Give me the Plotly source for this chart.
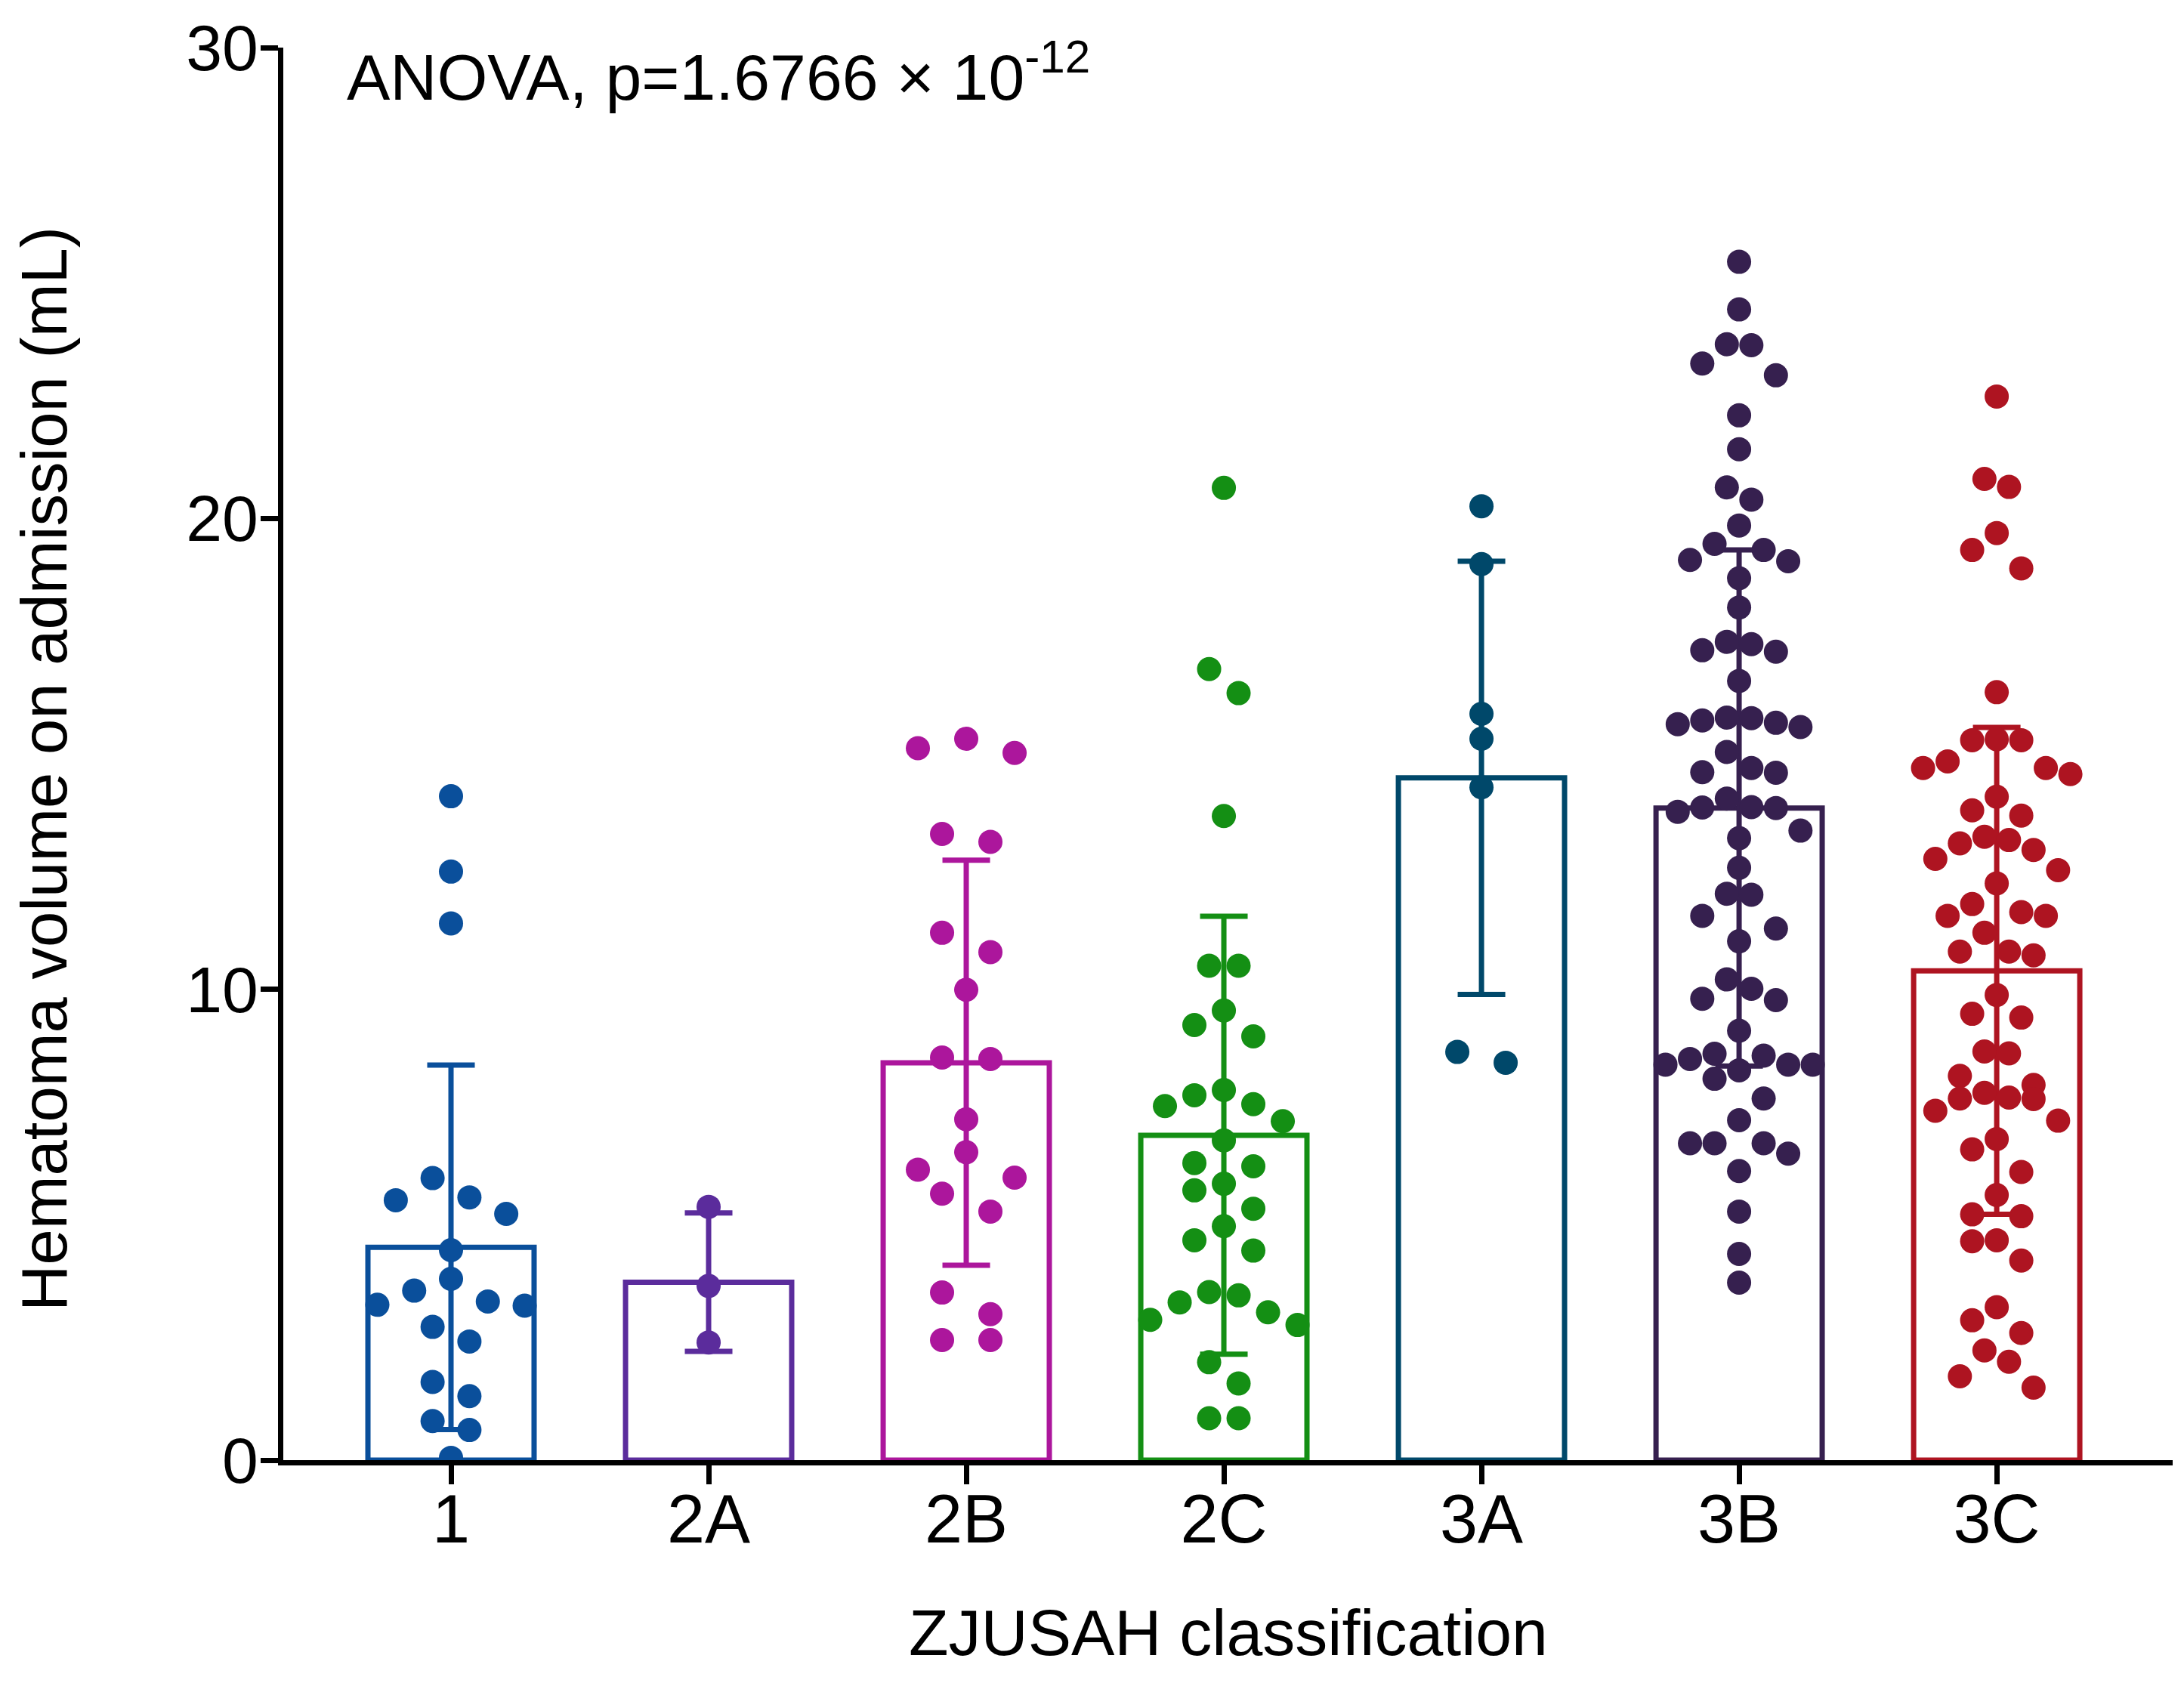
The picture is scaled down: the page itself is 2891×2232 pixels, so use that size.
import plotly.graph_objects as go

# ---------------- data ----------------
categories = ["1", "2A", "2B", "2C", "3A", "3B", "3C"]

vals_1 = [14.1, 12.5, 11.4, 5.99, 5.58, 5.52, 5.23, 4.46, 3.85, 3.60, 3.30, 3.37,
          3.28, 2.83, 2.52, 1.66, 1.36, 0.83, 0.64, 0.05]
vals_2A = [5.38, 3.70, 2.50]
vals_2B = [15.02, 15.32, 15.12, 13.13, 13.30, 11.20, 10.79, 9.99, 8.52, 8.55, 7.24,
           6.54, 6.17, 6.00, 5.66, 5.28, 3.56, 3.10, 2.55, 2.55]
vals_2C = [20.65, 16.80, 16.29, 13.68, 10.50, 10.50, 9.55, 9.24, 9.00, 7.86, 7.52,
           7.75, 7.56, 7.20, 6.79, 6.31, 6.24, 5.87, 5.73, 5.34, 4.97, 4.45, 4.67,
           3.50, 3.57, 3.35, 2.98, 2.87, 3.14, 2.08, 1.63, 0.89, 0.89]
vals_3A = [20.26, 19.03, 15.85, 15.32, 14.29, 8.67, 8.44]
vals_3B = [25.45, 24.44, 23.68, 23.70, 23.29, 23.04, 22.19, 21.47, 20.66, 20.40,
           19.85, 19.46, 19.33, 19.09, 19.12, 18.73, 18.11, 17.20, 17.17, 17.38,
           17.33, 16.55, 15.76, 15.57, 15.71, 15.66, 15.63, 15.77, 15.04, 14.61,
           14.70, 14.60, 14.05, 13.77, 13.87, 13.85, 13.86, 13.21, 13.37, 12.58,
           12.03, 12.01, 11.56, 11.29, 11.02, 10.21, 10.01, 9.77, 9.80, 9.12, 8.59,
           8.63, 8.52, 8.40, 8.40, 8.28, 8.40, 8.10, 7.68, 7.22, 6.51, 6.73, 6.73,
           6.73, 6.14, 5.28, 4.38, 3.77]
vals_3C = [22.59, 20.84, 20.67, 19.69, 19.33, 18.94, 16.31, 15.29, 15.29, 15.31,
           14.84, 14.70, 14.70, 14.57, 14.09, 13.69, 13.80, 13.10, 13.17, 13.24,
           12.96, 12.77, 12.53, 12.25, 11.81, 11.64, 11.56, 11.56, 11.20, 10.72,
           10.80, 10.80, 9.88, 9.48, 9.40, 8.64, 8.68, 8.16, 7.97, 7.67, 7.68, 7.80,
           7.70, 7.21, 7.42, 6.60, 6.82, 6.12, 5.63, 5.18, 5.22, 4.65, 4.67, 4.24,
           3.25, 2.97, 2.70, 2.33, 2.09, 1.78, 1.54]

bar_means = [4.52, 3.78, 8.44, 6.90, 14.49, 13.85, 10.39]
bar_sds = [3.87, 1.47, 4.30, 4.65, 4.60, 5.48, 5.17]

y_ticks = [0, 10, 20, 30]

# ---------------- style ----------------
colors = ["#0A4F9B", "#5B2C9C", "#AC169C", "#148F14", "#00486A", "#36204F", "#AE1421"]
FONT = "Liberation Sans, Arial, Helvetica, sans-serif"

OFF = 8                      # default page margin around the plot div
W, H = 2891 - 2 * OFF, 2232 - 2 * OFF
PLOT_L, PLOT_R, PLOT_T, PLOT_B = 375, 2876, 57, 1933   # page coordinates
ML = PLOT_L - OFF
MT = PLOT_T - OFF
MR = W - (PLOT_R - OFF)
MB = H - (PLOT_B - OFF)
plot_w = PLOT_R - PLOT_L
plot_h = PLOT_B - PLOT_T
x_range = [-0.651, 6.683]
y_range = [0, 30]
px_per_cat = plot_w / (x_range[1] - x_range[0])
px_per_unit = plot_h / (y_range[1] - y_range[0])

DOT = 32          # marker diameter in px
MAX_SPAN = 195    # widest row of dots in px
ROW_H = 50        # max row height in px


def swarm_offsets(values):
    """GraphPad-like scatter: group close values into rows, spread rows symmetrically."""
    vals = sorted(values, reverse=True)
    rows = []
    for v in vals:
        if rows:
            r = rows[-1]
            gap = (r[-1] - v) * px_per_unit
            span = (r[0] - v) * px_per_unit
            if gap < DOT and span <= ROW_H:
                r.append(v)
                continue
        rows.append([v])
    nmax = max(len(r) for r in rows)
    sp = 2 * DOT if nmax < 2 else min(2 * DOT, MAX_SPAN / (nmax - 1))
    offs, ys = [], []
    for r in rows:
        n = len(r)
        slots = [(i - (n - 1) / 2) * sp for i in range(n)]
        slots = sorted(slots, key=lambda s: (abs(s), s))
        for v, s in zip(r, slots):
            offs.append(s / px_per_cat)
            ys.append(v)
    return offs, ys


def px(page_x):
    return (page_x - PLOT_L) / plot_w


def py(page_y):
    return (PLOT_B - page_y) / plot_h


groups = [vals_1, vals_2A, vals_2B, vals_2C, vals_3A, vals_3B, vals_3C]

fig = go.Figure()

for i, (m, sd, c) in enumerate(zip(bar_means, bar_sds, colors)):
    fig.add_trace(go.Bar(
        x=[i], y=[m], width=0.645,
        marker=dict(color="rgba(255,255,255,0)", line=dict(color=c, width=7)),
        error_y=dict(type="data", array=[sd], visible=True, color=c,
                     thickness=7, width=31.5),
        showlegend=False, hoverinfo="skip",
    ))

for i, (vals, c) in enumerate(zip(groups, colors)):
    offs, ys = swarm_offsets(vals)
    fig.add_trace(go.Scatter(
        x=[i + o for o in offs], y=ys, mode="markers",
        marker=dict(size=DOT, color=c, line=dict(width=0)),
        showlegend=False,
    ))

fig.update_layout(
    width=W, height=H,
    margin=dict(l=ML, r=MR, t=MT, b=MB, pad=0),
    paper_bgcolor="white", plot_bgcolor="white",
    barmode="overlay",
    font=dict(family=FONT, color="black", size=84),
    showlegend=False,
)

fig.update_xaxes(
    range=x_range, tickmode="array", tickvals=list(range(len(categories))),
    ticktext=categories, ticks="outside", ticklen=25, tickwidth=7, tickcolor="black",
    showline=True, linewidth=7, linecolor="black", showgrid=False, zeroline=False,
    tickfont=dict(size=90, family=FONT, color="black"), ticklabelstandoff=-31,
)
fig.update_yaxes(
    range=y_range, tickmode="array", tickvals=y_ticks,
    ticks="outside", ticklen=23, tickwidth=7, tickcolor="black",
    showline=True, linewidth=7, linecolor="black", showgrid=False, zeroline=False,
    tickfont=dict(size=86, family=FONT, color="black"), ticklabelstandoff=-14,
)

fig.add_annotation(
    text="ANOVA, p=1.6766 × 10<sup>-12</sup>",
    xref="paper", yref="paper", x=px(457), y=py(90),
    xanchor="left", yanchor="middle", showarrow=False,
    font=dict(size=86, family=FONT, color="black"),
)
fig.add_annotation(
    text="Hematoma volume on admission (mL)", textangle=-90,
    xref="paper", yref="paper", x=px(59), y=py(1015),
    xanchor="center", yanchor="middle", showarrow=False,
    font=dict(size=85, family=FONT, color="black"),
)
fig.add_annotation(
    text="ZJUSAH classification",
    xref="paper", yref="paper", x=0.5, y=py(2162),
    xanchor="center", yanchor="middle", showarrow=False,
    font=dict(size=86, family=FONT, color="black"),
)

fig.write_html("out.html")
